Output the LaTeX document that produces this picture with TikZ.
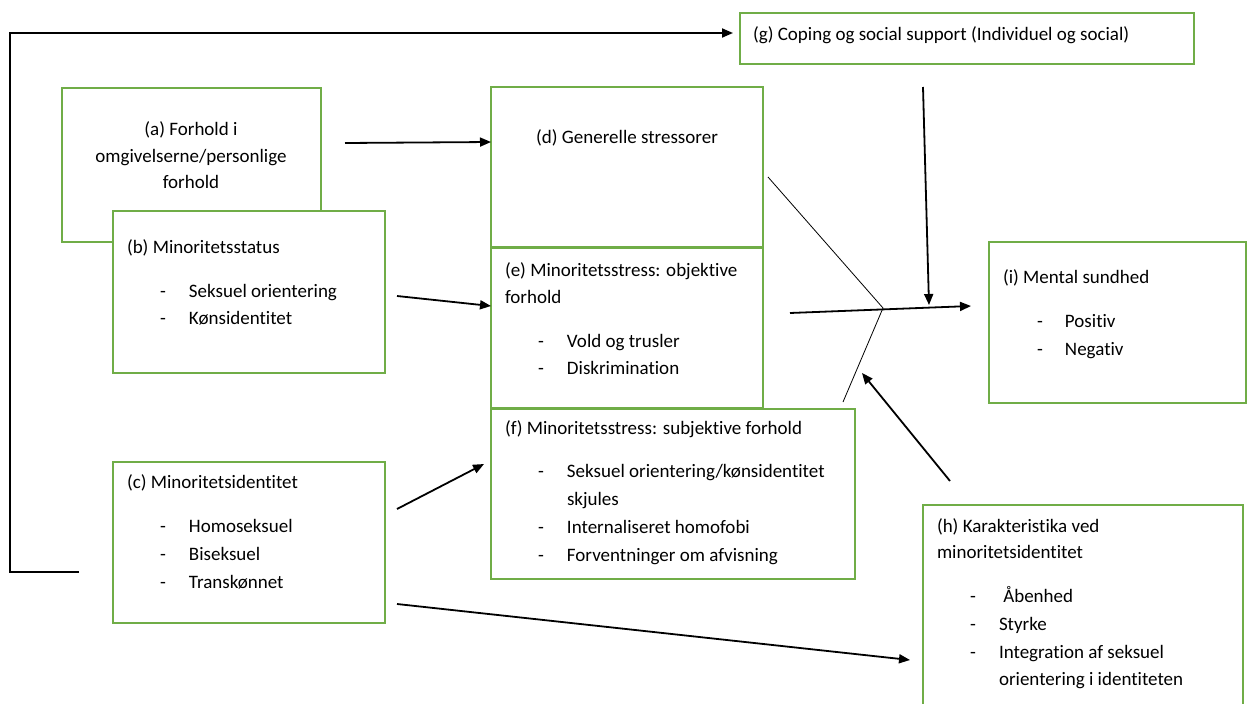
\documentclass[tikz,border=0pt]{standalone}
\usepackage{fontspec}
\setmainfont{Carlito}[Ligatures={NoCommon,NoContextual,NoRequired,NoRare},RawFeature={-clig;-calt;-ccmp}]
\usetikzlibrary{arrows.meta,calc}
\definecolor{boxgreen}{RGB}{112,173,71}
\begin{document}
\begin{tikzpicture}[x=1pt,y=-1pt,
  gbox/.style={draw=boxgreen, line width=2pt, fill=white, inner sep=0pt, outer sep=0pt, anchor=north west},
  lbl/.style={anchor=base west, inner sep=0pt, outer sep=0pt, font=\fontsize{19}{27.5}\selectfont},
  clbl/.style={anchor=base, inner sep=0pt, outer sep=0pt, font=\fontsize{19}{27.5}\selectfont},
  arr/.style={line width=1.8pt, -{Triangle[length=11pt,width=9pt]}},
  thinline/.style={line width=0.8pt}]
\useasboundingbox (0,0) rectangle (1248,704);
\newcommand{\itm}[1]{\makebox[29pt][l]{-}#1}

% boxes
\node[gbox, minimum width=259pt, minimum height=154pt] (A) at (62,88) {};
\node[gbox, minimum width=272pt, minimum height=162pt] (B) at (113,211) {};
\node[gbox, minimum width=272pt, minimum height=161pt] (C) at (113,462) {};
\node[gbox, minimum width=272pt, minimum height=160pt] (D) at (491,87) {};
\node[gbox, minimum width=272pt, minimum height=160pt] (E) at (491,248) {};
\node[gbox, minimum width=364pt, minimum height=170pt] (F) at (491,409) {};
\node[gbox, minimum width=454pt, minimum height=51pt] (G) at (740,13) {};
\node[gbox, minimum width=257pt, minimum height=161pt] (I) at (989,242) {};
\node[gbox, minimum width=320pt, minimum height=230pt] (H) at (923,505) {};

% texts
\node[clbl] (a1) at (191,135) {(a) Forhold i};
\node[clbl] (a2) at (191,162) {omgivelserne/personlige};
\node[clbl] (a3) at (191,188) {forhold};

\node[lbl] (b1) at (127,253) {(b) Minoritetsstatus};
\node[lbl] (b2) at (160,297) {\itm{Seksuel orientering}};
\node[lbl] (b3) at (160,324) {\itm{Kønsidentitet}};

\node[lbl] (c1) at (127,488) {(c) Minoritetsidentitet};
\node[lbl] (c2) at (160,532) {\itm{Homoseksuel}};
\node[lbl] (c3) at (160,560) {\itm{Biseksuel}};
\node[lbl] (c4) at (160,588) {\itm{Transkønnet}};

\node[clbl] (d1) at (627,143) {(d) Generelle stressorer};

\node[lbl] (e1) at (505,276) {(e) Minoritetsstress: objektive};
\node[lbl] (e2) at (505,303) {forhold};
\node[lbl] (e3) at (538,347) {\itm{Vold og trusler}};
\node[lbl] (e4) at (538,374) {\itm{Diskrimination}};

\node[lbl] (f1) at (505,434) {(f) Minoritetsstress: subjektive forhold};
\node[lbl] (f2) at (538,477) {\itm{Seksuel orientering/kønsidentitet}};
\node[lbl] (f3) at (567,505) {skjules};
\node[lbl] (f4) at (538,533) {\itm{Internaliseret homofobi}};
\node[lbl] (f5) at (538,561) {\itm{Forventninger om afvisning}};

\node[lbl] (g1) at (753,40) {(g) Coping og social support (Individuel og social)};

\node[lbl] (i1) at (1003,283) {(i) Mental sundhed};
\node[lbl] (i2) at (1037,327) {\makebox[28pt][l]{-}Positiv};
\node[lbl] (i3) at (1037,355) {\makebox[28pt][l]{-}Negativ};

\node[lbl] (h1) at (937,532) {(h) Karakteristika ved};
\node[lbl] (h2) at (937,558) {minoritetsidentitet};
\node[lbl] (h3) at (970,602) {\itm{ Åbenhed}};
\node[lbl] (h4) at (970,630) {\itm{Styrke}};
\node[lbl] (h5) at (970,658) {\itm{Integration af seksuel}};
\node[lbl] (h6) at (999,685) {orientering i identiteten};

% connector free ends
\coordinate (loopS) at (79,572);
\coordinate (loopC1) at (10,572);
\coordinate (loopC2) at (10,33);
\coordinate (loopE) at (733,33);
\coordinate (aS) at (345,143);
\coordinate (bS) at (397,296);
\coordinate (cS1) at (397,509);
\coordinate (cT1) at (484,464);
\coordinate (cS2) at (397,604);
\coordinate (hT) at (910,660);
\coordinate (eS) at (790,313);
\coordinate (iT) at (971,306);
\coordinate (gS) at (923,87);
\coordinate (gT) at (929,305);
\coordinate (hS) at (950,481);
\coordinate (hE) at (862,373);
\coordinate (dS) at (768,177);
\coordinate (junc) at (883,308);
\coordinate (fS) at (843,402);

% connectors
\draw[arr] (loopS) -- (loopC1) -- (loopC2) -- (loopE);
\draw[arr] (aS) -- ($(D.north west)+(0,55)$);
\draw[arr] (bS) -- ($(E.north west)+(0,58)$);
\draw[arr] (cS1) -- (cT1);
\draw[arr] (cS2) -- (hT);
\draw[arr] (eS) -- (iT);
\draw[arr] (gS) -- (gT);
\draw[arr] (hS) -- (hE);
\draw[thinline] (dS) -- (junc) -- (fS);
\end{tikzpicture}
\end{document}
